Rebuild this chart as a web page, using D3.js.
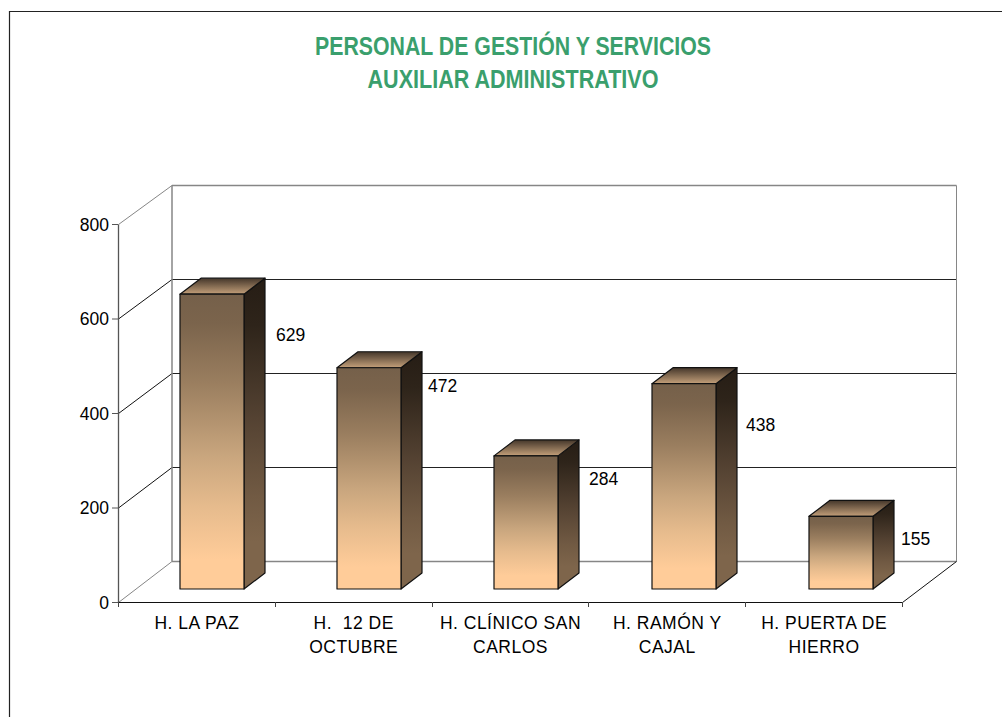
<!DOCTYPE html>
<html><head><meta charset="utf-8">
<style>html,body{margin:0;padding:0;background:#fff;overflow:hidden}svg{display:block}</style>
<script src="https://cdn.jsdelivr.net/npm/d3@7"></script></head>
<body><svg id="c" width="1002" height="717"></svg>
<script>
const categories = ["H. LA PAZ","H.  12 DE|OCTUBRE","H. CLÍNICO SAN|CARLOS","H. RAMÓN Y|CAJAL","H. PUERTA DE|HIERRO"];
const values = [629,472,284,438,155];
const yTicks = [0,200,400,600,800];
const titleLines = ["PERSONAL DE GESTIÓN Y SERVICIOS","AUXILIAR ADMINISTRATIVO"];
// hand-placed label offsets from each bar's top right corner, as in the original
const labelDx = [11,6,10,9,7];
const labelDy = [41,18,23,41,23];

const svg = d3.select("#c");
const font = "'Liberation Sans',Arial,sans-serif";
const y = d3.scaleLinear().domain([0,800]).range([602.5,224.5]);
const yBack = d3.scaleLinear().domain([0,800]).range([561.5,185.5]);
const x = d3.scaleBand().domain(categories).range([118.5,902.5]);
const xBar = d3.scaleBand().domain(categories).range([118,904]);
const yBar = d3.scaleLinear().domain([0,800]).range([589,214]);
const barW = 64, sideX = 21, sideY = -16, barShift = 15.4;
const barLeft = i => Math.round(xBar(categories[i])+xBar.bandwidth()/2+barShift-barW/2);

const defs = svg.append("defs");
function grad(id,stops){
  const g = defs.append("linearGradient").attr("id",id).attr("x1",0).attr("y1",0).attr("x2",0).attr("y2",1);
  stops.forEach(s=>g.append("stop").attr("offset",s[0]).attr("stop-color",s[1]));
}
grad("front",[[0,"#75604a"],[.1,"#7b644c"],[.3,"#9a7e5f"],[.55,"#c9a67e"],[.72,"#e6bb8d"],[.9,"#ffcc99"],[1,"#ffcc99"]]);
grad("side",[[0,"#261d15"],[.15,"#2e241a"],[.45,"#544232"],[.7,"#715a43"],[.85,"#7e654b"],[1,"#7e654b"]]);
grad("top",[[0,"#44362a"],[1,"#c4a07a"]]);

// frame
svg.append("path").attr("d","M9.5,717V11.5H1002").attr("fill","none").attr("stroke","#222").attr("stroke-width",1.2);

// title
svg.append("g").selectAll("text").data(titleLines).join("text")
  .attr("x",513).attr("y",(d,i)=>55+i*33).attr("text-anchor","middle")
  .attr("font-family",font).attr("font-weight","bold").attr("font-size",25)
  .attr("textLength",(d,i)=>i?291:396).attr("lengthAdjust","spacingAndGlyphs")
  .attr("fill","#3a9f6d").text(d=>d);

// walls
const bx = 172, ex = 956.5;
const grey = "#868686";
const grid = svg.append("g");
yTicks.forEach(t=>{
  const yy = y(t), by = yBack(t);
  const edge = t===0||t===800;
  grid.append("line").attr("x1",118.5).attr("y1",yy).attr("x2",bx).attr("y2",by)
    .attr("stroke",edge?grey:"#111").attr("stroke-width",1);
  grid.append("line").attr("x1",bx).attr("y1",by).attr("x2",ex).attr("y2",by)
    .attr("stroke",edge?grey:"#222").attr("stroke-width",edge?1.3:1);
  grid.append("line").attr("x1",112).attr("y1",yy).attr("x2",118).attr("y2",yy)
    .attr("stroke","#555").attr("stroke-width",1);
});
grid.append("line").attr("x1",bx).attr("x2",bx).attr("y1",yBack(800)).attr("y2",yBack(0)).attr("stroke",grey).attr("stroke-width",1.5);
grid.append("line").attr("x1",ex).attr("x2",ex).attr("y1",yBack(800)).attr("y2",yBack(0)).attr("stroke",grey).attr("stroke-width",1);
grid.append("line").attr("x1",902.5).attr("y1",y(0)).attr("x2",ex).attr("y2",yBack(0)).attr("stroke","#111");

// axes
grid.append("line").attr("x1",118.5).attr("x2",118.5).attr("y1",y(800)).attr("y2",y(0)).attr("stroke","#555").attr("stroke-width",1.3);
grid.append("line").attr("x1",118).attr("x2",903).attr("y1",y(0)).attr("y2",y(0)).attr("stroke","#111").attr("stroke-width",1);
const xEdges = categories.map(c=>x(c)).concat([902.5]);
grid.selectAll(".xt").data(xEdges).join("line").attr("class","xt")
  .attr("x1",d=>Math.round(d-.5)+.5).attr("x2",d=>Math.round(d-.5)+.5).attr("y1",602).attr("y2",607).attr("stroke","#444");

svg.append("g").selectAll("text").data(yTicks).join("text")
  .attr("x",109).attr("y",d=>y(d)+6).attr("text-anchor","end")
  .attr("font-family",font).attr("font-size",17.5).attr("fill","#000").text(d=>d);

// bars
const bars = svg.append("g").selectAll("g").data(values).join("g")
  .attr("transform",(d,i)=>`translate(${barLeft(i)},0)`);
const st = {stroke:"#111","stroke-width":1.2,"stroke-linejoin":"round"};
function applyStroke(s){Object.entries(st).forEach(([k,v])=>s.attr(k,v));return s;}
applyStroke(bars.append("path").attr("fill","url(#side)")
  .attr("d",d=>`M${barW},${yBar(d)}l${sideX},${sideY}V${yBar(0)+sideY}l${-sideX},${-sideY}Z`));
applyStroke(bars.append("path").attr("fill","url(#top)")
  .attr("d",d=>`M0,${yBar(d)}l${sideX},${sideY}h${barW}l${-sideX},${-sideY}Z`));
applyStroke(bars.append("rect").attr("fill","url(#front)")
  .attr("x",0).attr("width",barW).attr("y",d=>yBar(d)).attr("height",d=>yBar(0)-yBar(d)));

// data labels
svg.append("g").selectAll("text").data(values).join("text")
  .attr("x",(d,i)=>barLeft(i)+barW+sideX+labelDx[i])
  .attr("y",(d,i)=>yBar(d)+labelDy[i]+6)
  .attr("font-family",font).attr("font-size",17.5).attr("fill","#000").text(d=>d);

// category labels
const cat = svg.append("g").selectAll("text").data(categories).join("text")
  .attr("font-family",font).attr("font-size",17.5).attr("letter-spacing",0.5).attr("fill","#000").attr("text-anchor","middle");
cat.each(function(c){
  const cx = x(c)+x.bandwidth()/2;
  c.split("|").forEach((l,i)=>d3.select(this).append("tspan").style("white-space","pre")
    .attr("x",cx).attr("y",628.5+i*24).text(l));
});
</script></body></html>
